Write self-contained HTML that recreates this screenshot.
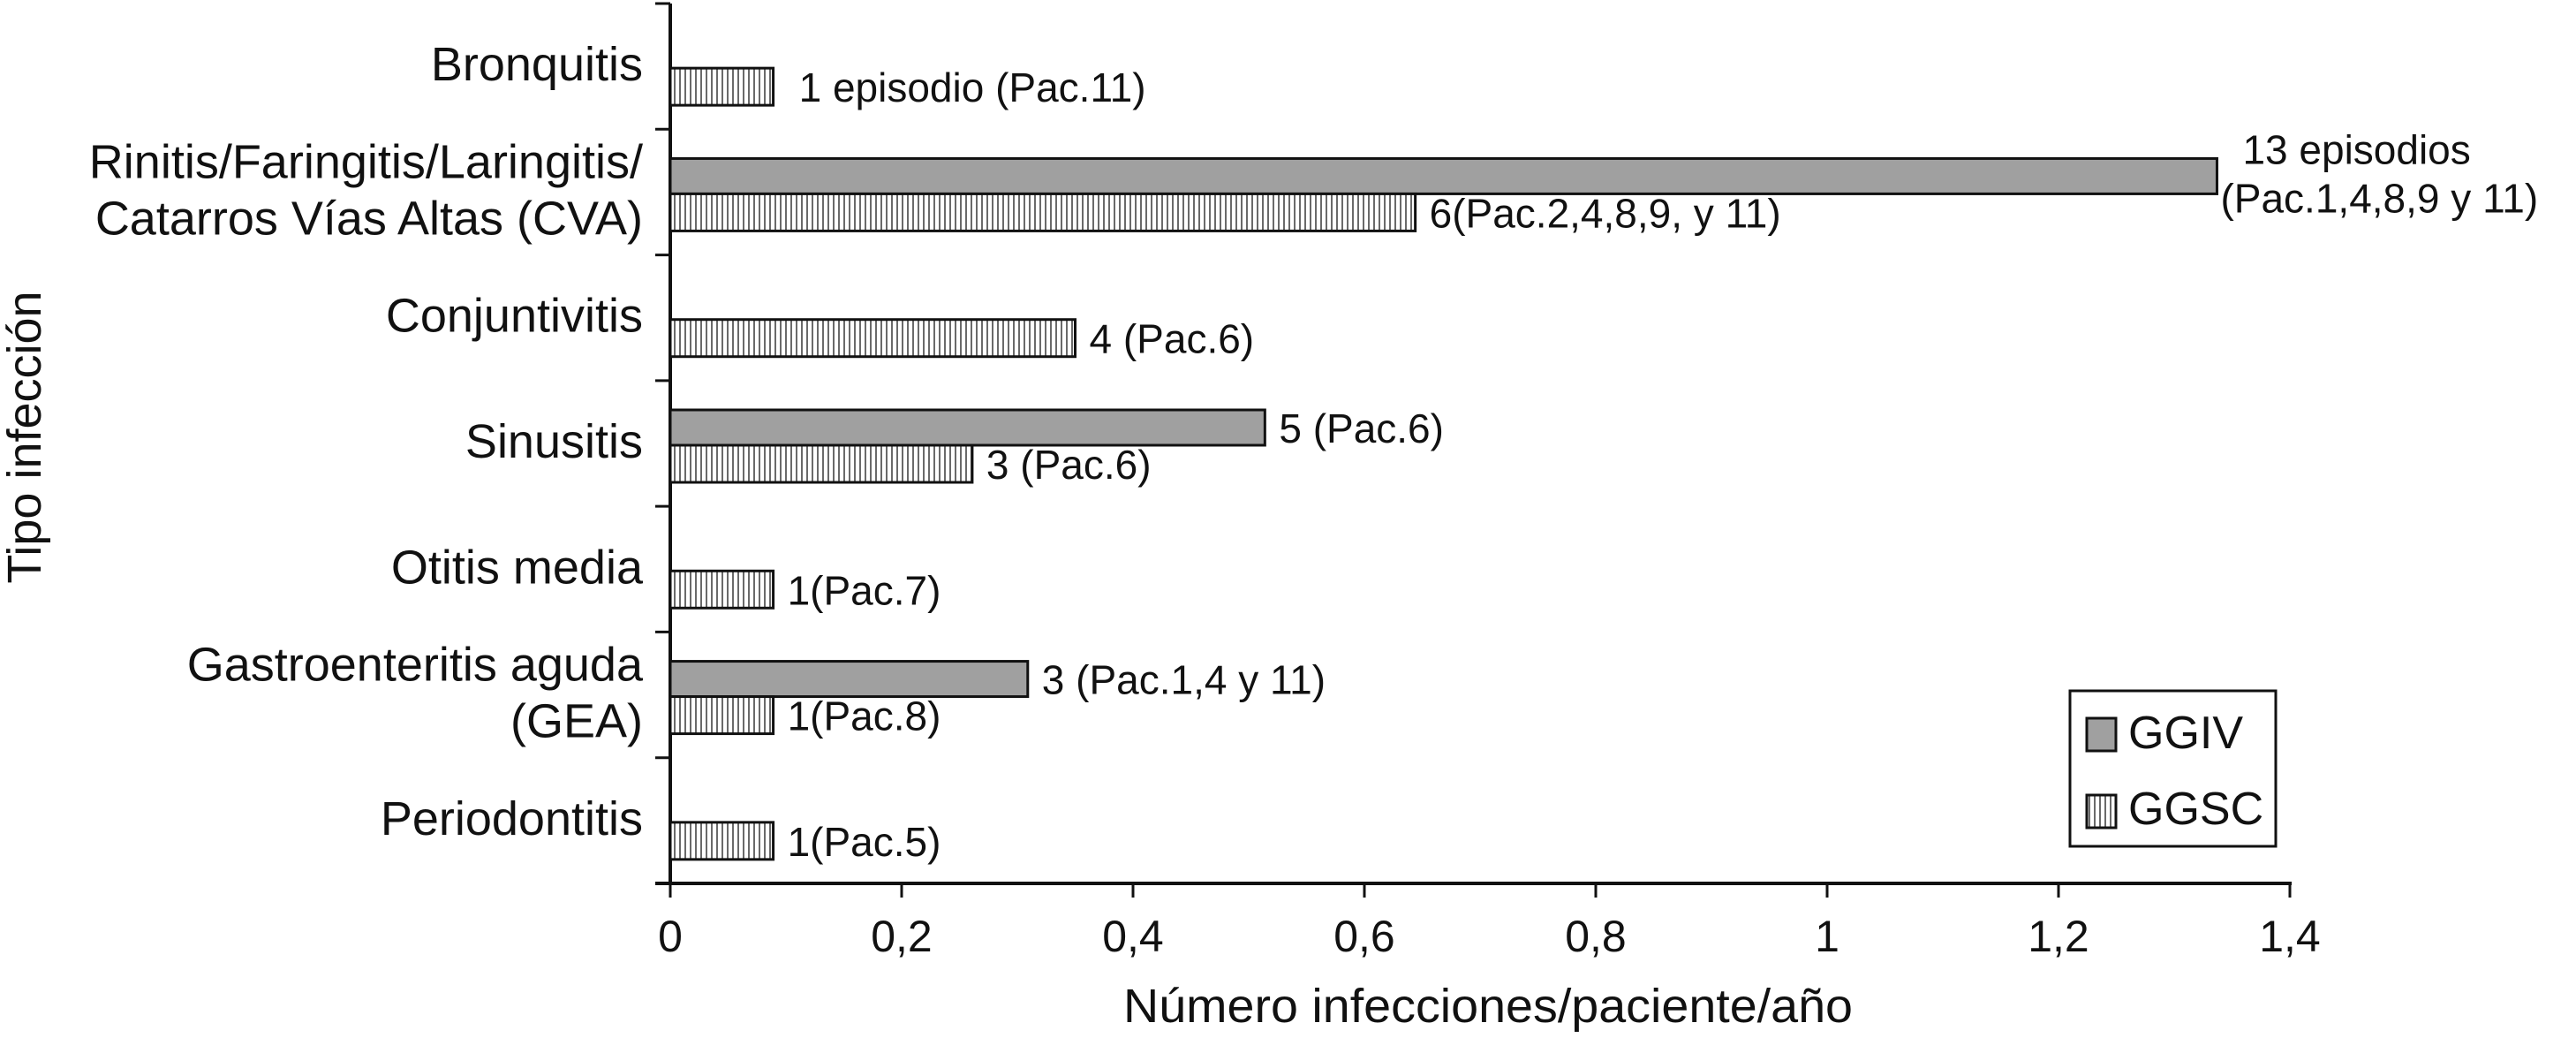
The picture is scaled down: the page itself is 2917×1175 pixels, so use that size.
<!DOCTYPE html>
<html><head><meta charset="utf-8"><style>
html,body{margin:0;padding:0;background:#fff;}
svg{display:block;font-family:"Liberation Sans",Arial,sans-serif;}
</style></head><body>
<svg id="chart" width="2917" height="1175" viewBox="0 0 2917 1175" xmlns="http://www.w3.org/2000/svg">
<defs>
<pattern id="hatch" patternUnits="userSpaceOnUse" width="6" height="10">
<rect width="6" height="10" fill="#fff"/>
<line x1="2" y1="0" x2="2" y2="10" stroke="#6a6a6a" stroke-width="2"/>
</pattern>
</defs>
<g id="plot"></g>
</svg>
<script>
const categories = [["Bronquitis"],["Rinitis/Faringitis/Laringitis/","Catarros Vías Altas (CVA)"],["Conjuntivitis"],["Sinusitis"],["Otitis media"],["Gastroenteritis aguda","(GEA)"],["Periodontitis"]];
const ggivValues = [null,1.337,null,0.514,null,0.309,null];
const ggscValues = [0.089,0.644,0.35,0.261,0.089,0.089,0.089];
const ggivLabels = [null,["13 episodios","(Pac.1,4,8,9 y 11)"],null,["5 (Pac.6)"],null,["3 (Pac.1,4 y 11)"],null];
const ggscLabels = [["1 episodio (Pac.11)"],["6(Pac.2,4,8,9, y 11)"],["4 (Pac.6)"],["3 (Pac.6)"],["1(Pac.7)"],["1(Pac.8)"],["1(Pac.5)"]];
const xTicks = [0,0.2,0.4,0.6,0.8,1,1.2,1.4];
const xTickLabels = ["0","0,2","0,4","0,6","0,8","1","1,2","1,4"];

const NS="http://www.w3.org/2000/svg";
const g=document.getElementById('plot');
const X0=759, XU=1310, YT=4, YB=1000;
const band=(YB-YT)/categories.length;
const x=v=>X0+v*XU;
const yc=i=>YT+band*(i+0.5);
function mk(tag,attrs,parent){const e=document.createElementNS(NS,tag);for(const k in attrs)e.setAttribute(k,attrs[k]);(parent||g).appendChild(e);return e;}

// axes
let e;
e=mk('line',{x1:X0,y1:YT,x2:X0,y2:YB+2,stroke:'#111','stroke-width':4});


e=mk('line',{x1:X0-17,y1:YB,x2:x(1.4)+2,y2:YB,stroke:'#111','stroke-width':4});


for(let i=0;i<=categories.length;i++){
  e=mk('line',{x1:X0-17,y1:YT+band*i,x2:X0,y2:YT+band*i,stroke:'#111','stroke-width':3});
  
  
}
xTicks.forEach((t,i)=>{
  e=mk('line',{x1:x(t),y1:YB,x2:x(t),y2:YB+16,stroke:'#111','stroke-width':3});
  
  
  e=mk('text',{x:x(t),y:1077,'font-size':50,'text-anchor':'middle',fill:'#111'});
  e.textContent=xTickLabels[i];
  
  
});
// category labels
categories.forEach((lines,i)=>{
  const c=yc(i);
  lines.forEach((ln,j)=>{
    const by=c+16+(lines.length===2?(j===0?-32:32):0);
    e=mk('text',{x:728,y:by,'font-size':54,'text-anchor':'end',fill:'#111'});
    e.textContent=ln;
    
    
  });
});
// bars
function valueLabel(lines,xe,cy,name){
  if(lines.length===2){
    lines.forEach((ln,j)=>{
      e=mk('text',{x:xe+(j===0?29:4),y:185+(j*55)+(cy-199),'font-size':46,fill:'#111'});
      e.textContent=ln;
      
      
    });
  } else {
    e=mk('text',{x:xe+(lines[0].startsWith('1 episodio')?29:16),y:cy+17,'font-size':46,fill:'#111'});
    e.textContent=lines[0];
    
    
  }
}
categories.forEach((_,i)=>{
  const c=yc(i);
  if(ggivValues[i]!=null){
    e=mk('rect',{x:X0,y:c-38,width:x(ggivValues[i])-X0,height:40,fill:'#a0a0a0',stroke:'#111','stroke-width':3});
    
    
    valueLabel(ggivLabels[i],x(ggivValues[i]),c-18,'ggiv-value-label');
  }
  if(ggscValues[i]!=null){
    e=mk('rect',{x:X0,y:c+2,width:x(ggscValues[i])-X0,height:42,fill:'url(#hatch)',stroke:'#111','stroke-width':3});
    
    
    valueLabel(ggscLabels[i],x(ggscValues[i]),c+23,'ggsc-value-label');
  }
});
// titles
e=mk('text',{x:1685,y:1157,'font-size':54,'text-anchor':'middle',fill:'#111',textLength:826,lengthAdjust:'spacingAndGlyphs'});
e.textContent='Número infecciones/paciente/año';


e=mk('text',{x:0,y:0,'font-size':54,'text-anchor':'middle',fill:'#111',transform:'translate(46,495) rotate(-90)'});
e.textContent='Tipo infección';


// legend
const lg=mk('g',{});


mk('rect',{x:2344,y:782,width:233,height:176,fill:'#fff',stroke:'#111','stroke-width':3},lg);
e=mk('rect',{x:2363,y:813,width:33,height:37,fill:'#a0a0a0',stroke:'#111','stroke-width':3},lg);


e=mk('text',{x:2410,y:847,'font-size':52,fill:'#111'},lg);
e.textContent='GGIV';


e=mk('rect',{x:2363,y:900,width:33,height:37,fill:'url(#hatch)',stroke:'#111','stroke-width':3},lg);


e=mk('text',{x:2410,y:933,'font-size':52,fill:'#111'},lg);
e.textContent='GGSC';


</script>
</body></html>
